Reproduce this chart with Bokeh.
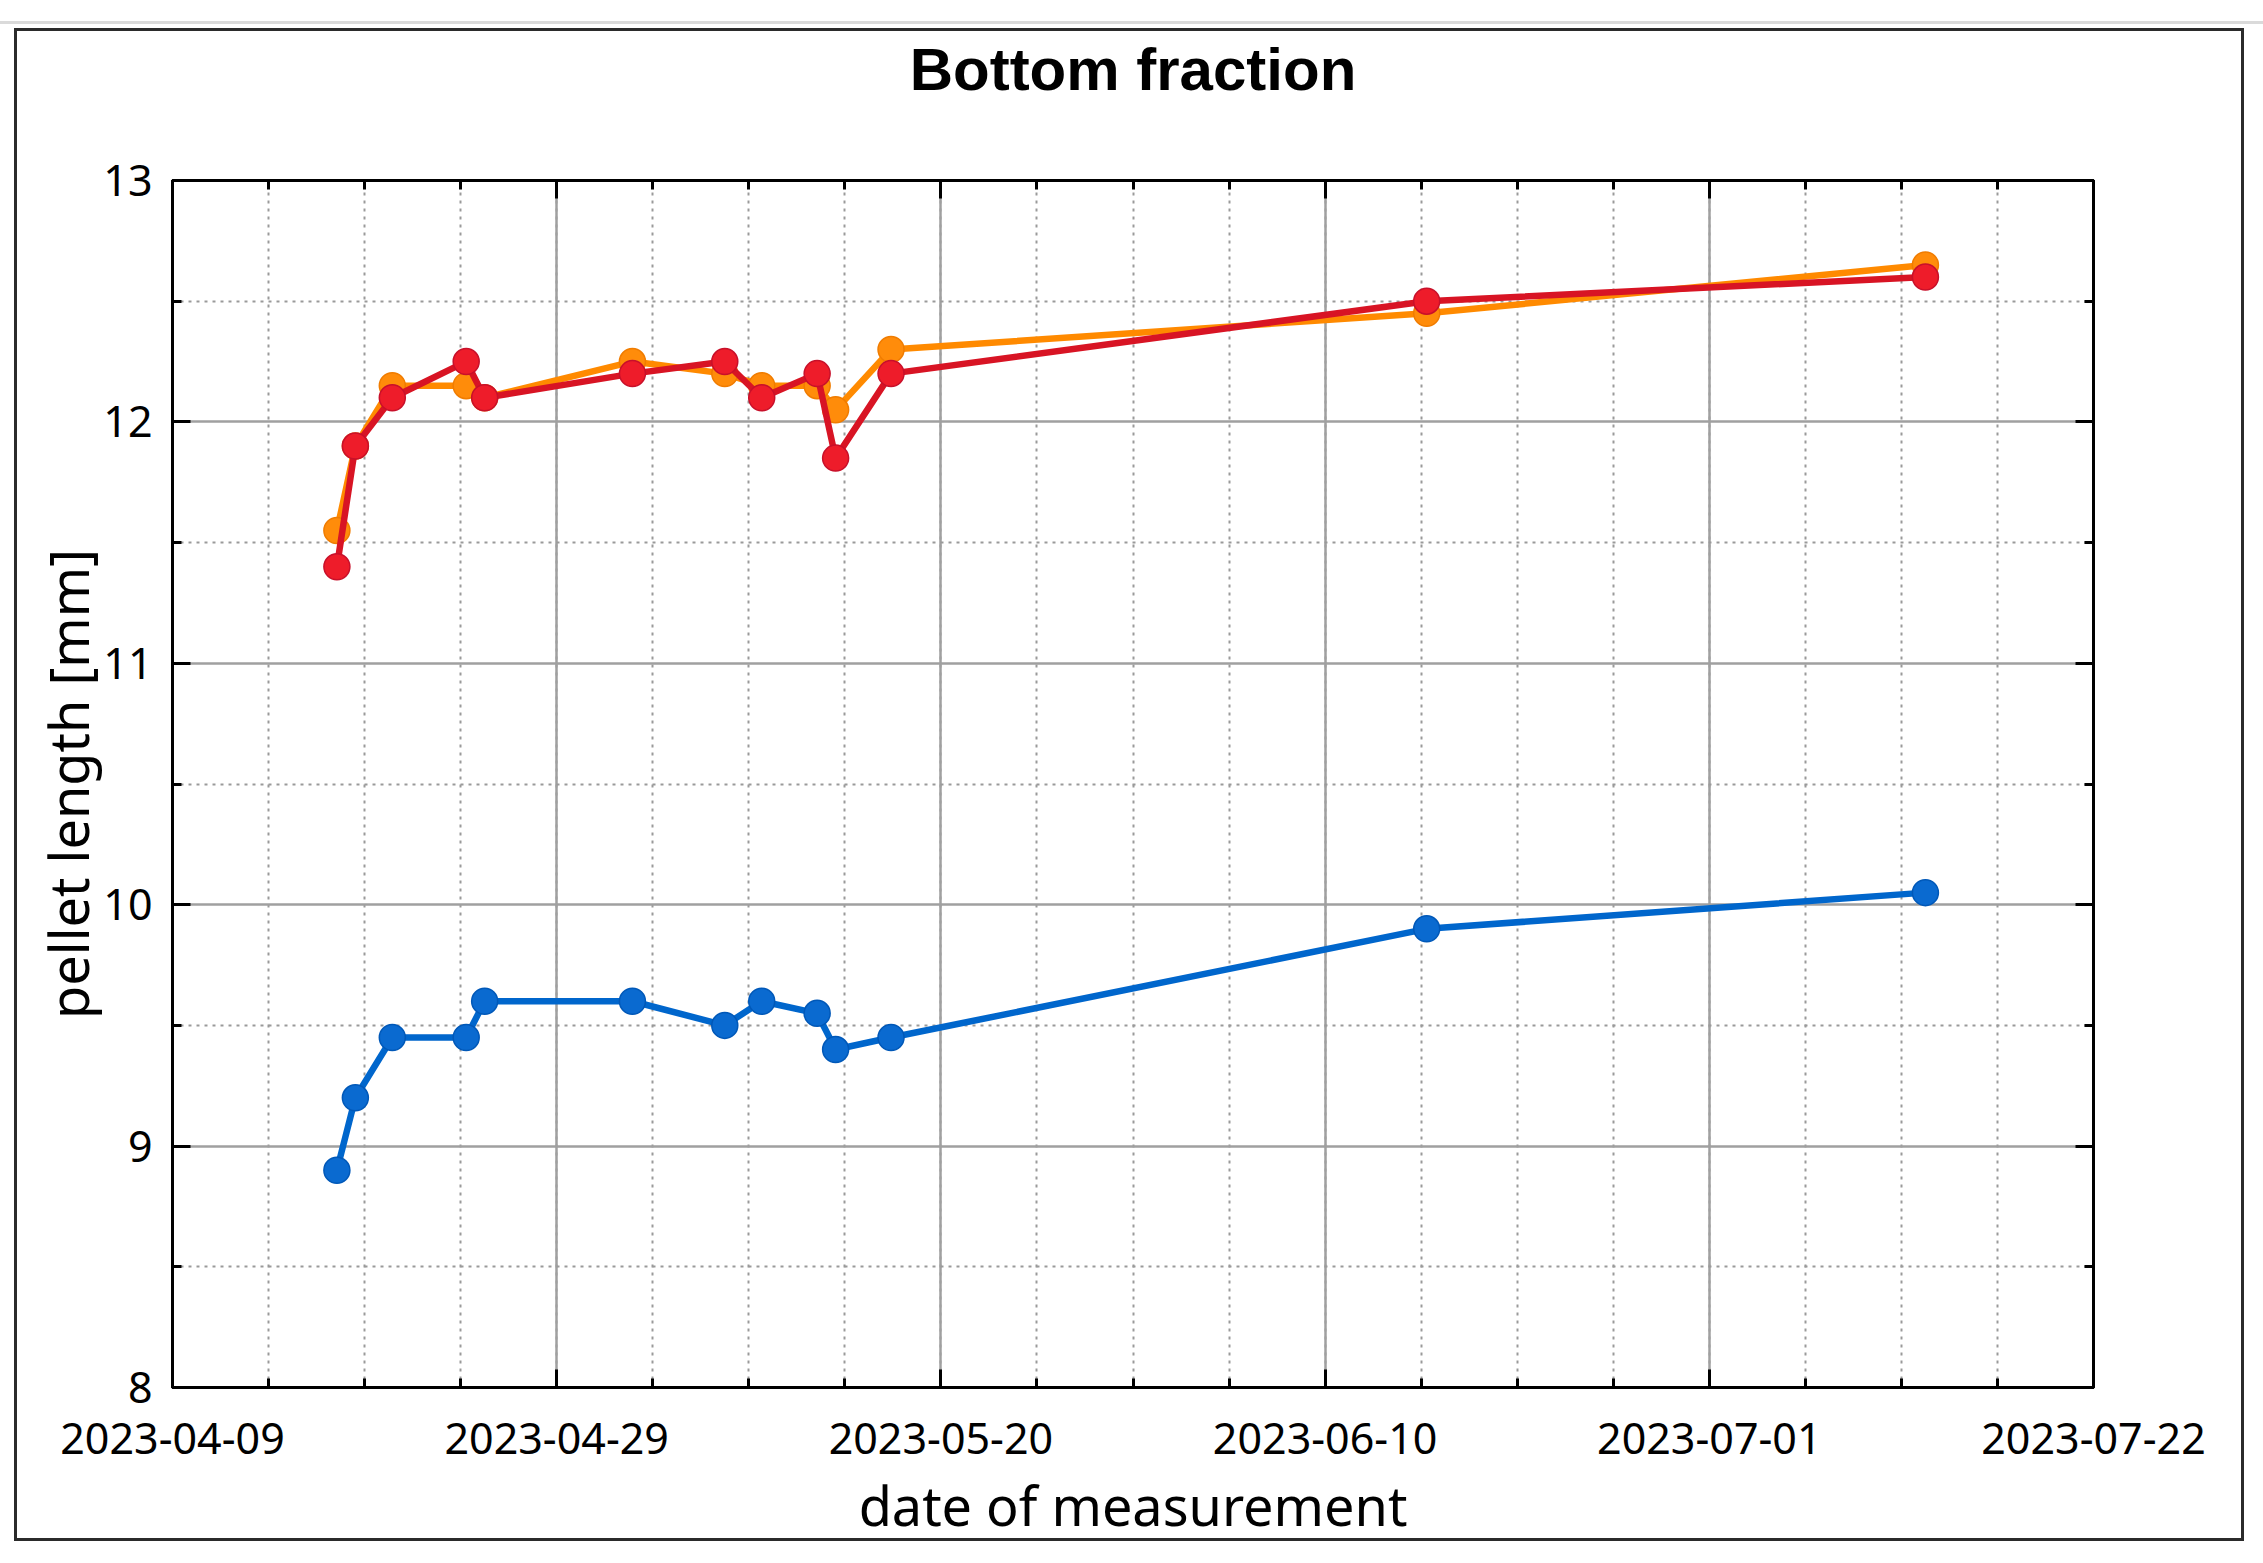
import datetime as dt
from bokeh.plotting import figure
from bokeh.layouts import column, row
from bokeh.models import (FixedTicker, DatetimeTickFormatter, Range1d, DatetimeAxis,
                          LinearAxis, ColumnDataSource, CustomJSTickFormatter, Spacer)
from bokeh.embed import file_html
from bokeh.resources import INLINE

# ---------------- data ----------------
dates = ["2023-04-18", "2023-04-19", "2023-04-21", "2023-04-25", "2023-04-26",
         "2023-05-04", "2023-05-09", "2023-05-11", "2023-05-14", "2023-05-15",
         "2023-05-18", "2023-06-16", "2023-07-13"]
blue_vals = [8.9, 9.2, 9.45, 9.45, 9.6, 9.6, 9.5, 9.6, 9.55, 9.4, 9.45, 9.9, 10.05]
red_vals = [11.4, 11.9, 12.1, 12.25, 12.1, 12.2, 12.25, 12.1, 12.2, 11.85, 12.2, 12.5, 12.6]
orange_vals = [11.55, 11.9, 12.15, 12.15, 12.1, 12.25, 12.2, 12.15, 12.15, 12.05, 12.3, 12.45, 12.65]

y_major = [8, 9, 10, 11, 12, 13]
y_minor = [8.5, 9.5, 10.5, 11.5, 12.5]
x_start = dt.datetime(2023, 4, 9, 2, 24)
x_end = dt.datetime(2023, 7, 22, 2, 24)
n_major = 5      # major divisions on the date axis
n_sub = 4        # minor subdivisions per major

title_text = "Bottom fraction"
x_label = "date of measurement"
y_label = "pellet length [mm]"

# ---------------- helpers ----------------
EPOCH = dt.datetime(1970, 1, 1)
def ms(d):
    return (d - EPOCH).total_seconds() * 1000.0

xs = [ms(dt.datetime.strptime(d, "%Y-%m-%d")) for d in dates]
span = ms(x_end) - ms(x_start)
x_major = [ms(x_start) + span * k / n_major for k in range(n_major + 1)]
x_minor = [ms(x_start) + span * k / (n_major * n_sub) for k in range(n_major * n_sub + 1)]

FONT = "Noto Sans"

p = figure(width=2230, height=1513, x_axis_type="datetime",
           output_backend="svg", toolbar_location=None,
           x_range=Range1d(ms(x_start), ms(x_end)), y_range=Range1d(8, 13),
           min_border_left=155, min_border_right=154, min_border_top=149,
           min_border_bottom=151,
           styles={"border": "3px solid #2b2b2b", "box-sizing": "border-box"})

p.background_fill_color = "white"
p.border_fill_color = "white"
p.outline_line_color = "black"
p.outline_line_width = 3

xt = FixedTicker(ticks=x_major, minor_ticks=x_minor)
yt = FixedTicker(ticks=y_major, minor_ticks=y_minor)
fmt = DatetimeTickFormatter(milliseconds="%Y-%m-%d", seconds="%Y-%m-%d", minsec="%Y-%m-%d",
                            minutes="%Y-%m-%d", hourmin="%Y-%m-%d", hours="%Y-%m-%d",
                            days="%Y-%m-%d", months="%Y-%m-%d", years="%Y-%m-%d")
blank = CustomJSTickFormatter(code="return '';")

def style_axis(ax, labels=True):
    ax.axis_line_color = "black"
    ax.axis_line_width = 3
    ax.major_tick_line_color = "black"
    ax.major_tick_line_width = 3
    ax.minor_tick_line_color = "black"
    ax.minor_tick_line_width = 3
    ax.major_tick_in = 18
    ax.major_tick_out = 0
    ax.minor_tick_in = 9
    ax.minor_tick_out = 0
    if not labels:
        ax.formatter = blank
        ax.major_label_standoff = 0
        ax.major_label_text_font_size = "1px"

xa = p.xaxis[0]
xa.ticker = xt
xa.formatter = fmt
style_axis(xa)
xa.major_label_text_font = FONT
xa.major_label_text_font_size = "43px"
xa.major_label_text_color = "black"
xa.major_label_standoff = 35
xa.axis_label = x_label
xa.axis_label_text_font = FONT
xa.axis_label_text_font_size = "54px"
xa.axis_label_text_font_style = "normal"
xa.axis_label_text_color = "black"
xa.axis_label_standoff = 11

ya = p.yaxis[0]
ya.ticker = yt
style_axis(ya)
ya.major_label_text_font = FONT
ya.major_label_text_font_size = "43px"
ya.major_label_text_color = "black"
ya.major_label_standoff = 20
ya.axis_label = y_label
ya.axis_label_text_font = FONT
ya.axis_label_text_font_size = "54px"
ya.axis_label_text_font_style = "normal"
ya.axis_label_text_color = "black"
ya.axis_label_standoff = -5

# top axis carries the chart title as its label (centred over the frame)
top_ax = DatetimeAxis(ticker=xt)
style_axis(top_ax, labels=False)
top_ax.axis_label = title_text
top_ax.axis_label_text_font = "Liberation Sans"
top_ax.axis_label_text_font_size = "60px"
top_ax.axis_label_text_font_style = "bold"
top_ax.axis_label_text_color = "black"
top_ax.axis_label_standoff = 78
p.add_layout(top_ax, "above")

right_ax = LinearAxis(ticker=yt)
style_axis(right_ax, labels=False)
p.add_layout(right_ax, "right")

for g in (p.xgrid[0], p.ygrid[0]):
    g.grid_line_color = "#a0a0a0"
    g.grid_line_width = 2.5
    g.minor_grid_line_color = "#9a9a9a"
    g.minor_grid_line_width = 2
    g.minor_grid_line_dash = "3 5"

src = ColumnDataSource(dict(x=xs, blue=blue_vals, red=red_vals, orange=orange_vals))

LW = 6.5
MS = 26
p.line("x", "blue", source=src, line_color="#0066cc", line_width=LW)
p.scatter("x", "blue", source=src, size=MS, fill_color="#0a6ad0", line_color="#0058b8", line_width=1.5)

p.line("x", "orange", source=src, line_color="#ff8a00", line_width=LW)
p.scatter("x", "orange", source=src, size=MS, fill_color="#ff8c0a", line_color="#f07c00", line_width=1.5)

p.line("x", "red", source=src, line_color="#d81424", line_width=LW)
p.scatter("x", "red", source=src, size=MS, fill_color="#ee1c2a", line_color="#c8102a", line_width=1.5)

# page frame: thin grey rule above the bordered chart, small left offset
layout = column(
    Spacer(width=10, height=21),
    Spacer(width=2263, height=3, styles={"background-color": "#dadada"}),
    Spacer(width=10, height=4),
    row(Spacer(width=14, height=10), p),
)

open("out.html", "w").write(file_html(layout, INLINE))
